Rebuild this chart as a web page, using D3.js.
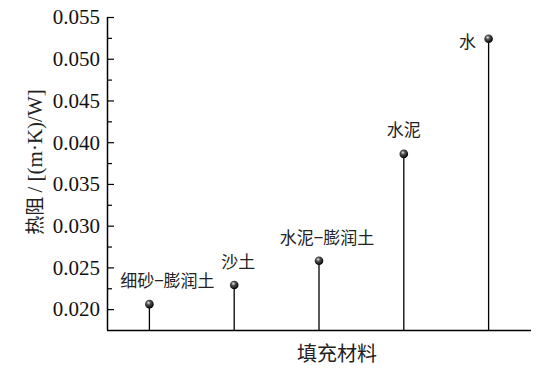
<!DOCTYPE html>
<html>
<head>
<meta charset="utf-8">
</head>
<body style="margin:0;background:#fff">
<div id="chart"></div>
<script src="https://cdn.jsdelivr.net/npm/d3@7"></script>
<script>
// data
var categories = ["细砂−膨润土", "沙土", "水泥−膨润土", "水泥", "水"];
var values = [0.0206, 0.0229, 0.0258, 0.0386, 0.0524];
var yTicks = [0.020, 0.025, 0.030, 0.035, 0.040, 0.045, 0.050, 0.055];

// label placement relative to each marker (layout only)
var labelOffsets = [[18, -17], [4, -17], [8, -17], [0, -18], [-21, 9]];

var serif = "Liberation Serif, Times New Roman, serif";
var cjk = "Noto Sans CJK SC, sans-serif";

var width = 549, height = 369;
var margin = { left: 107, right: 18, top: 17, bottom: 39 };

var svg = d3.select("#chart").append("svg")
  .attr("width", width)
  .attr("height", height);

var grad = svg.append("defs").append("radialGradient")
  .attr("id", "ball")
  .attr("cx", "40%").attr("cy", "35%").attr("r", "65%");
grad.append("stop").attr("offset", "0%").attr("stop-color", "#eee");
grad.append("stop").attr("offset", "35%").attr("stop-color", "#555");
grad.append("stop").attr("offset", "100%").attr("stop-color", "#000");

var x = d3.scaleLinear()
  .domain([0.5, 5.5])
  .range([margin.left, width - margin.right]);

var y = d3.scaleLinear()
  .domain([0.0175, 0.055])
  .range([height - margin.bottom, margin.top]);

var minorTicks = d3.range(0.0225, 0.055, 0.005);

// y axis, ticks pointing inward
var yAxis = svg.append("g")
  .attr("transform", "translate(" + margin.left + ",0)")
  .call(d3.axisRight(y).tickValues(yTicks).tickSize(7).tickFormat(""));
yAxis.select(".domain")
  .attr("d", "M0.5," + y.range()[0] + "V" + y.range()[1])
  .attr("stroke", "#000").attr("stroke-width", 1.5);
yAxis.selectAll("line").attr("stroke", "#000").attr("stroke-width", 1.2);

svg.append("g")
  .attr("transform", "translate(" + margin.left + ",0)")
  .call(d3.axisRight(y).tickValues(minorTicks).tickSize(5).tickFormat(""))
  .call(function (g) { g.select(".domain").remove(); })
  .selectAll("line").attr("stroke", "#000").attr("stroke-width", 1.2);

svg.append("g").selectAll("text")
  .data(yTicks)
  .enter().append("text")
  .attr("font-family", serif)
  .attr("font-size", 21)
  .attr("fill", "#111")
  .attr("x", margin.left - 7)
  .attr("y", function (d) { return y(d); })
  .attr("dy", "0.35em")
  .attr("text-anchor", "end")
  .text(d3.format(".3f"));

// x axis line
svg.append("line")
  .attr("x1", x.range()[0])
  .attr("x2", x.range()[1])
  .attr("y1", y.range()[0] + 0.5)
  .attr("y2", y.range()[0] + 0.5)
  .attr("stroke", "#000")
  .attr("stroke-width", 1.5);

// stems
svg.append("g").selectAll("line")
  .data(values)
  .enter().append("line")
  .attr("x1", function (d, i) { return x(i + 1); })
  .attr("x2", function (d, i) { return x(i + 1); })
  .attr("y1", y.range()[0])
  .attr("y2", function (d) { return y(d); })
  .attr("stroke", "#000")
  .attr("stroke-width", 1.3);

// markers
svg.append("g").selectAll("circle")
  .data(values)
  .enter().append("circle")
  .attr("cx", function (d, i) { return x(i + 1); })
  .attr("cy", function (d) { return y(d); })
  .attr("r", 4.3)
  .attr("fill", "url(#ball)");

// point labels
svg.append("g").selectAll("text")
  .data(categories)
  .enter().append("text")
  .attr("font-family", cjk)
  .attr("font-size", 17)
  .attr("fill", "#222")
  .attr("text-anchor", "middle")
  .attr("x", function (d, i) { return x(i + 1) + labelOffsets[i][0]; })
  .attr("y", function (d, i) { return y(values[i]) + labelOffsets[i][1]; })
  .text(function (d) { return d; });

// axis titles
svg.append("text")
  .attr("font-family", cjk)
  .attr("font-size", 20)
  .attr("fill", "#222")
  .attr("text-anchor", "middle")
  .attr("x", 337)
  .attr("y", 361)
  .text("填充材料");

var yTitle = svg.append("text")
  .attr("text-anchor", "middle")
  .attr("fill", "#222")
  .attr("transform", "translate(42,162) rotate(-90)");
yTitle.append("tspan").attr("font-family", cjk).attr("font-size", 19).text("热阻 ");
yTitle.append("tspan").attr("font-family", serif).attr("font-size", 21).text("/ [(m·K)/W]");
</script>
</body>
</html>
